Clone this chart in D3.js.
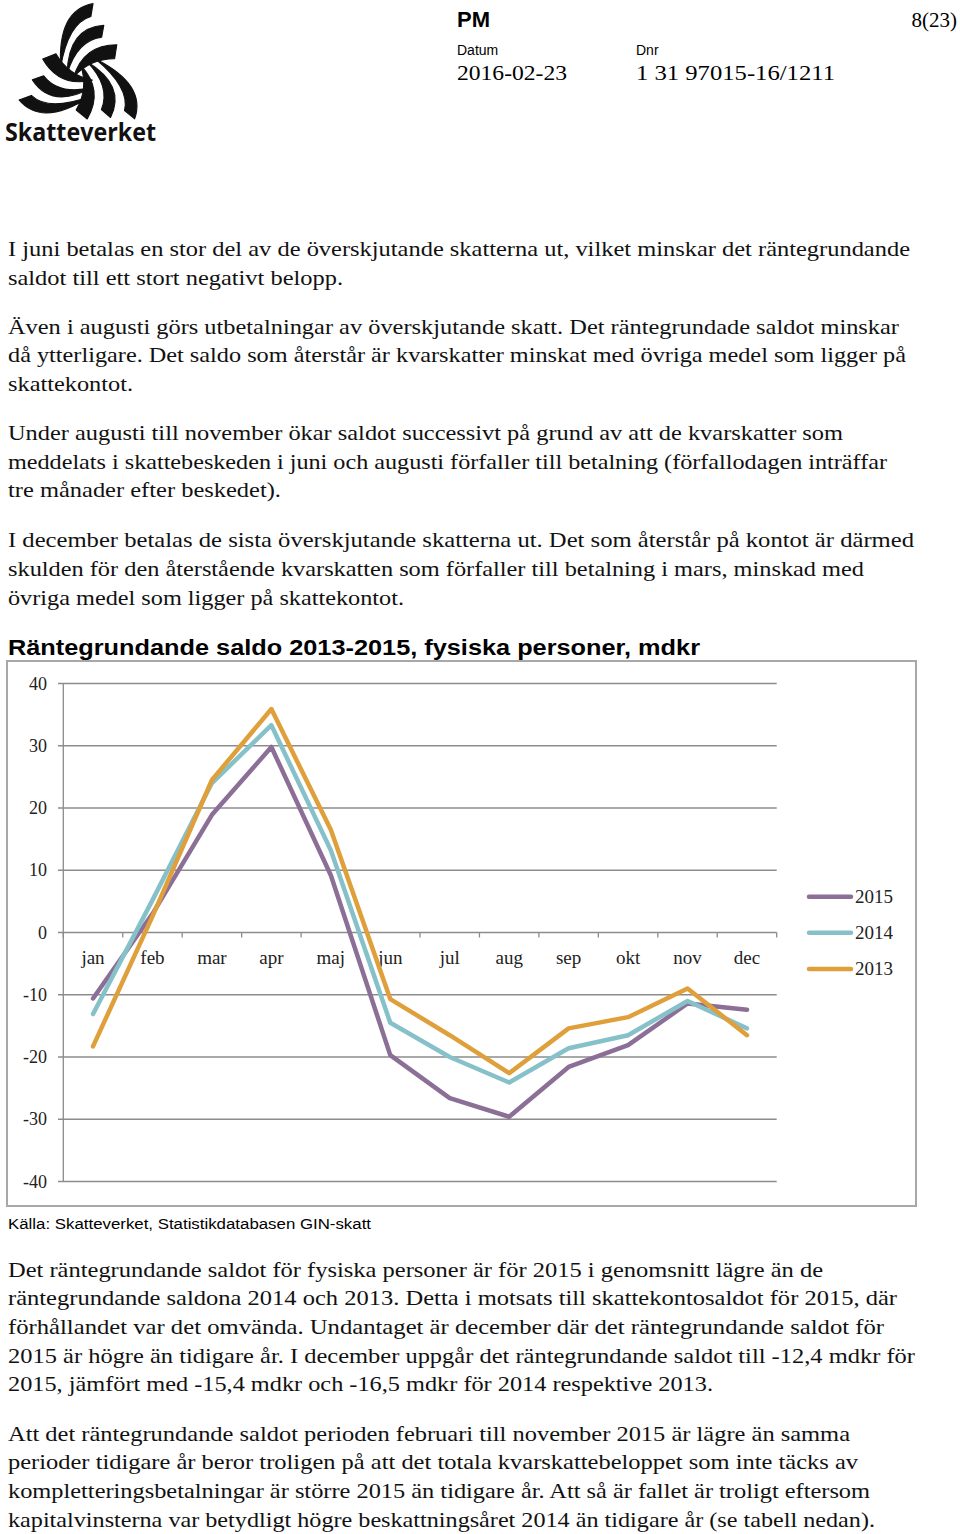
<!DOCTYPE html>
<html><head><meta charset="utf-8">
<script src="https://cdn.jsdelivr.net/npm/d3@7"></script>
<style>body{margin:0;background:#fff}svg{display:block}</style>
</head><body>
<svg id="page" width="960" height="1534"></svg>
<script>
// ---- data ----
const months = ["jan","feb","mar","apr","maj","jun","jul","aug","sep","okt","nov","dec"];
const years = ["2015","2014","2013"];
const values2015 = [-10.6, 3.0, 18.9, 29.8, 9.2, -19.7, -26.6, -29.6, -21.6, -18.1, -11.4, -12.4];
const values2014 = [-13.1, 5.2, 24.0, 33.3, 13.2, -14.5, -20.0, -24.1, -18.6, -16.5, -11.0, -15.4];
const values2013 = [-18.3, 2.6, 24.5, 35.9, 16.5, -10.7, -16.5, -22.6, -15.4, -13.6, -9.0, -16.5];
const yTicks = [40, 30, 20, 10, 0, -10, -20, -30, -40];
const chartTitle = "Räntegrundande saldo 2013-2015, fysiska personer, mdkr";
const sourceText = "Källa: Skatteverket, Statistikdatabasen GIN-skatt";

const paraTop = [
 ["I juni betalas en stor del av de överskjutande skatterna ut, vilket minskar det räntegrundande", 256, 902],
 ["saldot till ett stort negativt belopp.", 285, 335],
 ["Även i augusti görs utbetalningar av överskjutande skatt. Det räntegrundade saldot minskar", 334, 891],
 ["då ytterligare. Det saldo som återstår är kvarskatter minskat med övriga medel som ligger på", 362, 898],
 ["skattekontot.", 391, 125],
 ["Under augusti till november ökar saldot successivt på grund av att de kvarskatter som", 440, 835],
 ["meddelats i skattebeskeden i juni och augusti förfaller till betalning (förfallodagen inträffar", 469, 879],
 ["tre månader efter beskedet).", 497, 273],
 ["I december betalas de sista överskjutande skatterna ut. Det som återstår på kontot är därmed", 547, 906],
 ["skulden för den återstående kvarskatten som förfaller till betalning i mars, minskad med", 576, 856],
 ["övriga medel som ligger på skattekontot.", 605, 396]
];
const paraBottom = [
 ["Det räntegrundande saldot för fysiska personer är för 2015 i genomsnitt lägre än de", 1277, 815],
 ["räntegrundande saldona 2014 och 2013. Detta i motsats till skattekontosaldot för 2015, där", 1305, 889],
 ["förhållandet var det omvända. Undantaget är december där det räntegrundande saldot för", 1334, 876],
 ["2015 är högre än tidigare år. I december uppgår det räntegrundande saldot till -12,4 mdkr för", 1363, 907],
 ["2015, jämfört med -15,4 mdkr och -16,5 mdkr för 2014 respektive 2013.", 1391, 705],
 ["Att det räntegrundande saldot perioden februari till november 2015 är lägre än samma", 1441, 842],
 ["perioder tidigare år beror troligen på att det totala kvarskattebeloppet som inte täcks av", 1469, 850],
 ["kompletteringsbetalningar är större 2015 än tidigare år. Att så är fallet är troligt eftersom", 1498, 862],
 ["kapitalvinsterna var betydligt högre beskattningsåret 2014 än tidigare år (se tabell nedan).", 1527, 867]
];

const svg = d3.select("#page");
const serif = "'Liberation Serif','DejaVu Serif',serif";
const sans = "'Liberation Sans',Arial,sans-serif";

// ---- logo ----
const logo = svg.append("g").attr("transform","translate(2,4) translate(77,72) scale(1.08) translate(-77,-72)");
// each band: outer-edge start P1, outer control C1, tip T, inner control C2, inner end P2
const bands = [
  [[90,5],[57,11],[60,64],[67,23],[88,17]],
  [[100,25],[67,27],[66,70],[75,39],[98,36]],
  [[112,43],[81,43],[72,73],[87,56],[110,56]]
];
const cx = 77, cy = 72;
const groups = [
  {a:0, dx:0, dy:0},
  {a:120, dx:0, dy:-5},
  {a:240, dx:9, dy:0}
];
groups.forEach(gr => {
  const g = logo.append("g").attr("transform", `translate(${gr.dx},${gr.dy}) rotate(${gr.a},${cx},${cy})`);
  bands.forEach(b => {
    const [P1,C1,T,C2,P2] = b;
    g.append("path")
      .attr("d", `M${P1[0]},${P1[1]} Q${C1[0]},${C1[1]} ${T[0]},${T[1]} Q${C2[0]},${C2[1]} ${P2[0]},${P2[1]}Z`)
      .attr("fill","#111").attr("stroke","#111").attr("stroke-width",1).attr("stroke-linejoin","round");
  });
});
svg.append("text").attr("x",5).attr("y",141).attr("font-family","'Open Sans','Noto Sans',sans-serif")
  .attr("font-weight","bold").attr("font-size",25).attr("textLength",151).attr("lengthAdjust","spacingAndGlyphs")
  .attr("fill","#111").text("Skatteverket");

// ---- header ----
svg.append("text").attr("x",457).attr("y",27).attr("font-family",sans).attr("font-weight","bold").attr("font-size",22).text("PM");
svg.append("text").attr("x",957).attr("y",27).attr("text-anchor","end").attr("font-family",serif).attr("font-size",21).text("8(23)");
svg.append("text").attr("x",457).attr("y",55).attr("font-family",sans).attr("font-size",14).text("Datum");
svg.append("text").attr("x",636).attr("y",55).attr("font-family",sans).attr("font-size",14).text("Dnr");
svg.append("text").attr("x",457).attr("y",80).attr("font-family",serif).attr("font-size",21).attr("textLength",110).attr("lengthAdjust","spacingAndGlyphs").text("2016-02-23");
svg.append("text").attr("x",636).attr("y",80).attr("font-family",serif).attr("font-size",21).attr("textLength",199).attr("lengthAdjust","spacingAndGlyphs").text("1 31 97015-16/1211");

function para(lines){
  lines.forEach(([t,y,w]) => {
    svg.append("text").attr("x",8).attr("y",y).attr("font-family",serif).attr("font-size",21.5).attr("fill","#111")
      .attr("textLength",w).attr("lengthAdjust","spacingAndGlyphs").text(t);
  });
}
para(paraTop);
para(paraBottom);

// ---- chart ----
svg.append("text").attr("x",8).attr("y",655).attr("font-family",sans).attr("font-weight","bold").attr("font-size",22)
  .attr("textLength",692).attr("lengthAdjust","spacingAndGlyphs").text(chartTitle);
svg.append("rect").attr("x",7).attr("y",661).attr("width",909).attr("height",545).attr("fill","none").attr("stroke","#A8A8A8").attr("stroke-width",2);
svg.append("text").attr("x",8).attr("y",1229).attr("font-family",sans).attr("font-size",15.5).attr("textLength",363).attr("lengthAdjust","spacingAndGlyphs").text(sourceText);

const x = d3.scaleBand().domain(months).range([63.3, 776.7]).padding(0);
const y = d3.scaleLinear().domain([-40, 40]).range([1181.5, 683.5]);

const grid = svg.append("g");
grid.selectAll("line.g").data(yTicks).join("line")
  .attr("x1",58).attr("x2",776.7).attr("y1",d=>y(d)).attr("y2",d=>y(d))
  .attr("stroke","#8c8c8c").attr("stroke-width",1.3);
grid.append("line").attr("x1",63.3).attr("x2",63.3).attr("y1",y(40)).attr("y2",y(-40)).attr("stroke","#8c8c8c").attr("stroke-width",1.3);
grid.selectAll("text.yl").data(yTicks).join("text")
  .attr("x",47).attr("y",d=>y(d)+6).attr("text-anchor","end").attr("font-family",serif).attr("font-size",18).attr("fill","#222")
  .text(d=>d);
// x-axis ticks at 0
const bounds = months.map(m=>x(m)).concat([x.range()[1]]);
grid.selectAll("line.xt").data(bounds).join("line")
  .attr("x1",d=>d).attr("x2",d=>d).attr("y1",y(0)).attr("y2",y(0)+5).attr("stroke","#8c8c8c").attr("stroke-width",1.3);
grid.selectAll("text.xl").data(months).join("text")
  .attr("x",d=>x(d)+x.bandwidth()/2).attr("y",y(0)+31).attr("text-anchor","middle").attr("font-family",serif).attr("font-size",19).attr("fill","#222")
  .text(d=>d);

const series = [
  {name:"2015", values:values2015, color:"#8B6F96"},
  {name:"2014", values:values2014, color:"#86C1CA"},
  {name:"2013", values:values2013, color:"#DFA03B"}
];
const line = d3.line().x((d,i)=>x(months[i])+x.bandwidth()/2).y(d=>y(d));
svg.append("g").selectAll("path").data(series).join("path")
  .attr("d",d=>line(d.values)).attr("fill","none").attr("stroke",d=>d.color)
  .attr("stroke-width",4.5).attr("stroke-linejoin","round").attr("stroke-linecap","round");

// legend
const lg = svg.append("g");
const legY = [896.7, 932.7, 969];
series.forEach((s,i)=>{
  lg.append("line").attr("x1",809).attr("x2",851).attr("y1",legY[i]).attr("y2",legY[i]).attr("stroke",s.color).attr("stroke-width",4.5).attr("stroke-linecap","round");
  lg.append("text").attr("x",855).attr("y",legY[i]+6).attr("font-family",serif).attr("font-size",19).attr("fill","#222").text(s.name);
});
</script>
</body></html>
